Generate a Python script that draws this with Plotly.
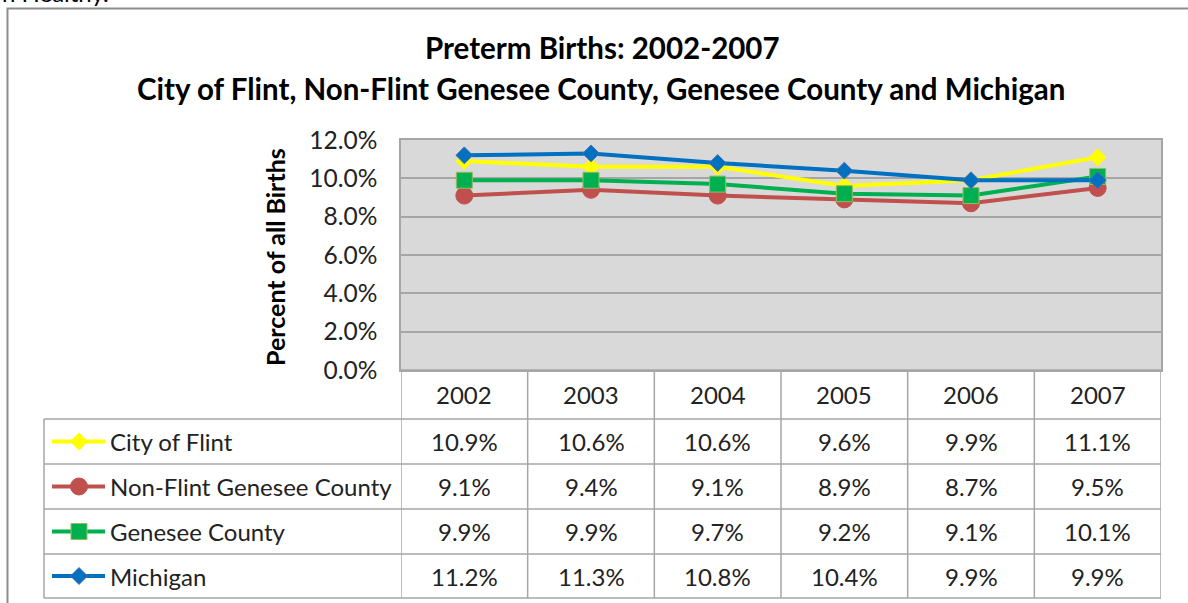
import plotly.graph_objects as go

W, H = 1188, 603

years = ["2002", "2003", "2004", "2005", "2006", "2007"]
series_names = ["City of Flint", "Non-Flint Genesee County", "Genesee County", "Michigan"]
flint = [10.9, 10.6, 10.6, 9.6, 9.9, 11.1]
non_flint = [9.1, 9.4, 9.1, 8.9, 8.7, 9.5]
genesee = [9.9, 9.9, 9.7, 9.2, 9.1, 10.1]
michigan = [11.2, 11.3, 10.8, 10.4, 9.9, 9.9]
y_ticks = [0, 2, 4, 6, 8, 10, 12]

series_values = [flint, non_flint, genesee, michigan]
colors = ["#FFFF00", "#C0504D", "#00B050", "#0070C0"]
marker_symbols = ["diamond", "circle", "square", "diamond"]
marker_sizes = [13, 17, 16, 13]
marker_lines = ["#FFFF00", "#C0504D", "#9BBB59", "#4F6FAF"]

FONT = "Lato"
GRID = "#A6A6A6"
TXT = "#222222"

# layout geometry in pixels
PL, PR, PT, PB = 401, 1161, 140, 370
TL = 44
row_edges = [370, 419, 464, 509, 554, 598]

xpos = list(range(len(years)))


def px(x):
    return x / W


def py(y):
    return 1 - y / H


fig = go.Figure()

for name, vals, c, sym, ms, ml in zip(series_names, series_values, colors,
                                      marker_symbols, marker_sizes, marker_lines):
    fig.add_trace(go.Scatter(
        x=xpos, y=[v / 100 for v in vals], name=name, mode="lines+markers",
        customdata=years,
        line=dict(color=c, width=4),
        marker=dict(symbol=sym, size=ms, color=c, line=dict(color=ml, width=1)),
        showlegend=False,
    ))

shapes = []
annotations = []

# outer frame (partial)
shapes.append(dict(type="path", xref="paper", yref="paper",
                   path=f"M {px(7.5)},{py(603)} L {px(7.5)},{py(8.5)} L {px(1188)},{py(8.5)}",
                   line=dict(color="#8C8C8C", width=2)))

# table horizontal lines
for i, ye in enumerate(row_edges):
    x0 = PL if i == 0 else TL
    shapes.append(dict(type="line", xref="paper", yref="paper",
                       x0=px(x0), x1=px(PR), y0=py(ye), y1=py(ye),
                       line=dict(color=GRID, width=1.5)))
# table left edge
shapes.append(dict(type="line", xref="paper", yref="paper",
                   x0=px(TL), x1=px(TL), y0=py(row_edges[1]), y1=py(row_edges[-1]),
                   line=dict(color=GRID, width=1.5)))
# column boundaries (in data coordinates)
for k in range(len(years) + 1):
    shapes.append(dict(type="line", xref="x", yref="paper",
                       x0=k - 0.5, x1=k - 0.5, y0=py(row_edges[0]), y1=py(row_edges[-1]),
                       line=dict(color=GRID, width=1.5)))

# header years
hy = (row_edges[0] + row_edges[1]) / 2
for i, yr in zip(xpos, years):
    annotations.append(dict(x=i, xref="x", y=py(hy), yref="paper", text=yr,
                            xanchor="center", yanchor="middle",
                            showarrow=False, font=dict(family=FONT, size=24, color=TXT)))

# table rows
for r, (name, vals, c, sym) in enumerate(zip(series_names, series_values, colors, marker_symbols)):
    cy = (row_edges[r + 1] + row_edges[r + 2]) / 2
    # legend key line
    shapes.append(dict(type="line", xref="paper", yref="paper",
                       x0=px(52), x1=px(105), y0=py(cy), y1=py(cy),
                       line=dict(color=c, width=4)))
    mx = 79
    if sym == "diamond":
        d = 8.5
        shapes.append(dict(type="path", xref="paper", yref="paper",
                           path=f"M {px(mx - d)},{py(cy)} L {px(mx)},{py(cy - d)} L {px(mx + d)},{py(cy)} L {px(mx)},{py(cy + d)} Z",
                           fillcolor=c, line=dict(color=marker_lines[r], width=1)))
    elif sym == "circle":
        d = 8.5
        shapes.append(dict(type="circle", xref="paper", yref="paper",
                           x0=px(mx - d), x1=px(mx + d), y0=py(cy - d), y1=py(cy + d),
                           fillcolor=c, line=dict(color=c, width=1)))
    else:
        d = 8
        shapes.append(dict(type="rect", xref="paper", yref="paper",
                           x0=px(mx - d), x1=px(mx + d), y0=py(cy - d), y1=py(cy + d),
                           fillcolor=c, line=dict(color=marker_lines[r], width=1)))
    annotations.append(dict(x=px(108), xref="paper", y=py(cy), yref="paper", text=name,
                            xanchor="left", yanchor="middle", showarrow=False,
                            font=dict(family=FONT, size=24, color=TXT)))
    for i, v in zip(xpos, vals):
        annotations.append(dict(x=i, xref="x", y=py(cy), yref="paper", text=f"{v:.1f}%",
                                xanchor="center", yanchor="middle",
                                showarrow=False, font=dict(family=FONT, size=24, color=TXT)))

# titles
annotations.append(dict(x=px(602), y=py(48), xref="paper", yref="paper",
                        xanchor="center", yanchor="middle",
                        text="<b>Preterm Births: 2002-2007</b>", showarrow=False,
                        font=dict(family=FONT, size=29.5, color="#000000")))
annotations.append(dict(x=px(601), y=py(88), xref="paper", yref="paper",
                        xanchor="center", yanchor="middle",
                        text="<b>City of Flint, Non-Flint Genesee County, Genesee County and Michigan</b>",
                        showarrow=False, font=dict(family=FONT, size=29.5, color="#000000")))
# y axis title
annotations.append(dict(x=px(275), y=py(257), xref="paper", yref="paper",
                        xanchor="center", yanchor="middle",
                        text="<b>Percent of all Births</b>", textangle=-90, showarrow=False,
                        font=dict(family=FONT, size=25, color="#000000")))
# cut-off text from surrounding document
annotations.append(dict(x=px(0), y=py(9), xref="paper", yref="paper", xanchor="left",
                        yanchor="bottom", text="n Healthy.", showarrow=False,
                        font=dict(family=FONT, size=24, color="#000000")))

fig.update_layout(
    width=W, height=H, autosize=False,
    margin=dict(l=0, r=0, t=0, b=0, pad=0, autoexpand=False),
    paper_bgcolor="white", plot_bgcolor="#D9D9D9",
    xaxis=dict(domain=[px(PL), px(PR)], range=[-0.5, len(years) - 0.5],
               showticklabels=False, showgrid=False, zeroline=False,
               showline=True, mirror=True, linecolor=GRID, linewidth=1.5, ticks=""),
    yaxis=dict(domain=[py(PB), py(PT)], range=[0, 0.12], tickvals=[t / 100 for t in y_ticks],
               tickformat=".1%", showgrid=True, gridcolor=GRID, gridwidth=1.5,
               zeroline=False, showline=True, mirror=True, linecolor=GRID, linewidth=1.5,
               ticks="outside", ticklen=17, tickcolor="rgba(0,0,0,0)",
               tickfont=dict(family=FONT, size=24.5, color=TXT)),
    shapes=shapes, annotations=annotations,
)

fig.write_html("out.html", config={"displayModeBar": False},
               post_script="document.body.style.margin='0';document.body.style.overflow='hidden';")
